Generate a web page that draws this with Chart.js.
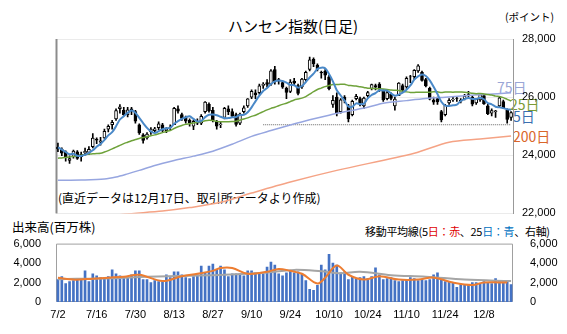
<!DOCTYPE html>
<html>
<head>
<meta charset="utf-8">
<script src="https://cdn.jsdelivr.net/npm/chart.js@4.4.1/dist/chart.umd.min.js"></script>
<style>
  body { margin: 0; background: #fff; width: 567px; height: 334px; overflow: hidden; position: relative; font-family: 'Liberation Sans', 'Noto Sans CJK JP', sans-serif; }
  .box { position: absolute; left: 0; width: 567px; }
  .txt { position: absolute; white-space: nowrap; font-family: 'Noto Sans CJK JP', sans-serif; color: #000; line-height: 1; }
</style>
</head>
<body>
<div class="txt" style="left:228px; top:18px; font-size:15px;">ハンセン指数(日足)</div>
<div class="txt" style="left:505px; top:12px; font-size:10.5px;">(ポイント)</div>
<div class="txt" style="left:58px; top:192px; font-size:12px;">(直近データは12月17日、取引所データより作成)</div>
<div class="txt" style="left:497px; top:80px; font-size:14px; color:#9aa6d6;">75日</div>
<div class="txt" style="left:510px; top:97px; font-size:14px; color:#7b9b35;">25日</div>
<div class="txt" style="left:513px; top:109px; font-size:14px; color:#3b6fb0;">5日</div>
<div class="txt" style="left:513px; top:129px; font-size:14px; color:#d9662a;">200日</div>
<div class="txt" style="left:12px; top:221px; font-size:12.5px;">出来高(百万株)</div>
<div class="txt" style="left:365px; top:226px; font-size:11px; letter-spacing:-0.3px;">移動平均線(5<span style="color:#e00000">日：赤</span>、25<span style="color:#0070c0">日：青</span>、右軸)</div>

<div class="box" style="top:0; height:229px;"><canvas id="priceChart"></canvas></div>
<div class="box" style="top:228px; height:106px;"><canvas id="volChart"></canvas></div>

<script>
// 営業日
const days = [
  '7/2','7/3','7/4','7/7','7/8','7/9','7/10','7/11','7/14','7/15','7/16','7/17','7/18','7/21','7/22','7/23','7/24','7/25','7/28','7/29','7/30','7/31',
  '8/1','8/4','8/5','8/6','8/7','8/8','8/11','8/12','8/13','8/14','8/15','8/18','8/19','8/20','8/21','8/22','8/25','8/26','8/27','8/28','8/29',
  '9/1','9/2','9/3','9/4','9/5','9/8','9/9','9/10','9/11','9/12','9/15','9/16','9/17','9/18','9/19','9/22','9/23','9/24','9/25','9/26','9/29','9/30',
  '10/2','10/3','10/6','10/8','10/9','10/10','10/13','10/14','10/15','10/16','10/17','10/20','10/21','10/22','10/23','10/24','10/27','10/28','10/30','10/31',
  '11/3','11/4','11/5','11/6','11/7','11/10','11/11','11/12','11/13','11/14','11/17','11/18','11/19','11/20','11/21','11/24','11/25','11/26','11/27','11/28',
  '12/1','12/2','12/3','12/4','12/5','12/8','12/9','12/10','12/11','12/12','12/15','12/16','12/17'
];

// 四本値
const opens = [
  24280,24200,24120,23820,23960,24120,23950,24080,24100,24300,24560,24450,24600,24900,25050,25250,25600,25550,25400,25600,25500,25050,
  24700,24600,24800,24850,24950,25050,24850,24950,25050,25600,25400,25300,25200,25000,25150,25100,25500,25750,25550,25150,25050,
  25300,25600,25500,25400,25100,25500,25700,26000,26150,26150,26400,26500,26450,26950,26600,26500,26300,26200,26550,26400,26350,26600,
  26950,27300,27100,26850,26900,26700,25750,26000,25500,26000,25700,25400,25950,25950,25700,26050,26300,26400,26450,26200,
  25950,26100,25700,26050,26400,26350,26700,26700,26900,26850,26600,26300,25900,25950,25500,25400,25800,25900,25950,25900,
  25950,26100,26000,25800,25900,26050,25700,25450,25500,25700,25850,25550,25300
];
const highs = [
  24420,24260,24150,23980,24180,24160,24110,24250,24300,24750,24600,24620,24900,25050,25200,25600,25740,25650,25650,25650,25550,25080,
  24750,24780,24950,24960,25150,25100,24950,25050,25650,25700,25450,25350,25250,25200,25250,25400,25850,25800,25650,25200,25150,
  25650,25700,25600,25450,25450,25700,25950,26250,26250,26450,26500,26600,26950,27060,26650,26550,26350,26600,26650,26450,26650,26900,
  27380,27350,27150,26900,26950,26750,26050,26150,25950,26050,25750,25900,26100,26000,26000,26200,26450,26450,26500,26250,
  26200,26150,26000,26500,26450,26700,26750,26950,27120,26900,26650,26350,26000,26000,25550,25750,25950,26000,26000,25950,
  26100,26200,26050,25950,26100,26100,25750,25600,25550,26000,25900,25600,25500
];
const lows = [
  24120,23990,23800,23720,23900,23860,23800,24000,24020,24250,24400,24350,24580,24800,24900,25200,25450,25350,25320,25400,25100,24720,
  24420,24550,24720,24800,24880,24800,24780,24850,25050,25450,25200,25100,25000,24880,25050,25050,25450,25480,25150,24900,24950,
  25250,25400,25300,25000,25050,25450,25650,25950,25950,26100,26300,26350,26400,26450,26450,26300,25950,26150,26400,26080,26300,26550,
  26900,27050,26900,26650,26600,26250,25650,25350,25450,25800,25150,25350,25900,25700,25600,26000,26250,26250,26200,25850,
  25900,25900,25550,26050,26150,26300,26500,26600,26850,26550,26350,25900,25750,25750,25150,25350,25750,25850,25850,25800,
  25900,26000,25700,25750,25850,25750,25400,25350,25300,25650,25600,25100,25200
];
const closes = [
  24221,24069,23916,23887,24148,23892,24028,24139,24203,24590,24517,24498,24826,24994,25130,25538,25667,25388,25562,25524,25177,24773,
  24508,24733,24902,24910,25081,24858,24906,24969,25613,25519,25270,25176,25122,25165,25104,25339,25829,25525,25201,24998,25077,
  25617,25497,25343,25058,25418,25633,25938,26200,26086,26388,26446,26438,26908,26544,26545,26344,26159,26519,26484,26128,26622,26855,
  27287,27141,26958,26829,26752,26290,25889,25441,25910,25888,25247,25858,26027,25781,25967,26160,26433,26346,26282,25907,
  26159,25952,25935,26485,26241,26649,26696,26922,27073,26572,26384,25930,25830,25835,25220,25716,25894,25928,25945,25858,
  26033,26095,25760,25935,26085,25765,25434,25541,25530,25976,25628,25235,25468
];

// 移動平均（読み取り値）
const ma5 = [
  24275,24194,24112,24033,24048,23982,23974,24019,24082,24170,24295,24389,24527,24685,24793,24997,25231,25343,25457,25536,
  25464,25285,25109,24943,24819,24765,24827,24897,24931,24945,25085,25173,25255,25309,25340,25250,25167,25181,25312,25392,
  25400,25378,25326,25284,25278,25306,25318,25387,25390,25478,25649,25855,26049,26212,26312,26453,26545,26576,26556,26500,
  26422,26410,26327,26382,26522,26675,26807,26973,27014,26993,26794,26544,26240,26056,25884,25675,25669,25786,25760,25776,
  25959,26074,26137,26238,26226,26225,26129,26047,26088,26154,26252,26401,26599,26716,26782,26729,26576,26358,26110,25840,
  25706,25699,25719,25741,25868,25932,25972,25938,25936,25982,25928,25796,25752,25671,25649,25622,25582,25567
];
const ma25 = [
  23900,23910,23925,23940,23960,23980,24000,24020,24040,24050,24060,24070,24110,24160,24220,24280,24340,24400,24450,24500,
  24540,24580,24610,24640,24673,24701,24741,24779,24820,24853,24922,24981,25026,25065,25087,25113,25137,25157,25191,25207,
  25193,25166,25154,25156,25155,25161,25173,25209,25245,25287,25338,25379,25440,25501,25560,25612,25653,25704,25751,25792,
  25846,25902,25933,25965,26018,26102,26187,26263,26311,26361,26399,26432,26433,26444,26442,26404,26395,26380,26354,26335,
  26305,26301,26293,26290,26280,26266,26245,26237,26231,26207,26181,26163,26162,26172,26165,26168,26170,26185,26182,26156,
  26174,26176,26172,26178,26174,26169,26155,26132,26118,26125,26109,26089,26073,26035,26024,25983,25925,25867
];
const ma75Days = ['7/2','7/10','7/18','7/23','7/28','7/31','8/6','8/13','8/20','8/27','9/3','9/10','9/17','9/24','10/2','10/10','10/17','10/24','10/31','11/10','11/17','11/24','12/1','12/8','12/17'];
const ma75 = [23140,23150,23180,23250,23360,23480,23650,23820,23970,24140,24380,24650,24850,25040,25220,25380,25520,25650,25790,25880,25950,26000,26050,26090,26150];
const ma200Days = ['7/2','7/16','7/25','8/8','8/19','8/29','9/10','9/24','10/14','11/12','11/25','12/5','12/17'];
const ma200 = [21650,21850,21970,22080,22200,22380,22700,23080,23480,24070,24450,24560,24660];
const supportDays = ['9/15','12/17'];
const supportLevel = [25050,25050];

// 出来高（百万株）
const volume = [
  2300,2600,1900,2100,2200,2300,2400,3200,2100,2900,2700,2500,2400,2600,3300,2900,2700,2500,2600,2800,3200,3200,
  2300,2300,2000,2200,2100,2100,2800,2500,3100,3100,2800,2500,2400,2600,2800,3700,3000,3700,3900,3300,3700,
  3300,2600,2900,2900,2900,2700,3200,3200,3000,2900,2900,3600,4100,3800,2900,2700,3000,3200,3000,3100,2900,2200,
  1300,1200,1700,3800,3300,4900,4000,3800,3000,3100,2300,2600,2400,2500,2600,2400,2600,3500,2800,2300,
  2400,2500,2200,2100,2200,2300,2500,2400,2200,2300,2200,2300,2800,3000,2300,2100,2100,2000,1500,1800,
  1700,1700,2000,2000,1900,2100,2000,1900,2400,2100,2200,2100,1800
];
const volMa5Days = ['7/2','7/8','7/15','7/21','7/25','7/31','8/8','8/15','8/21','8/27','8/29','9/3','9/9','9/16','9/19','9/24','9/29','10/6','10/9','10/14','10/17','10/23','10/30','11/6','11/13','11/19','11/26','12/3','12/8','12/16'];
const volMa5 = [2500,2300,2400,2500,2600,2800,2150,2650,2900,3200,3500,3500,2900,3100,3400,3200,2900,1900,2500,3750,2800,2300,2650,2300,2300,2500,2000,1750,2000,2000];
const volMa25Days = ['7/2','7/22','8/4','8/19','9/1','9/15','9/25','10/8','10/15','10/22','11/4','11/17','12/1','12/17'];
const volMa25 = [2350,2450,2600,2700,2800,3000,3300,3150,2950,3100,2750,2600,2300,2150];

const axisFont = { family: "'Liberation Sans', Arial, sans-serif", size: 11 };
const fmt = v => v.toLocaleString('en-US');

// 枠線
const framePlugin = {
  id: 'frame',
  beforeDatasetsDraw(chart, args, opts) {
    const a = chart.chartArea, ctx = chart.ctx;
    ctx.save();
    ctx.strokeStyle = opts.color || '#999';
    ctx.lineWidth = opts.width || 1;
    ctx.beginPath();
    if (opts.box) {
      ctx.rect(a.left + 0.5, a.top + 0.5, a.right - a.left - 1, a.bottom - a.top - 1);
    } else {
      ctx.moveTo(a.left + 0.5, a.top);
      ctx.lineTo(a.left + 0.5, a.bottom);
    }
    ctx.stroke();
    ctx.restore();
  }
};

const pts = (d, v) => d.map((x, i) => ({ x: x, y: v[i] }));

new Chart(document.getElementById('priceChart'), {
  data: {
    labels: days,
    datasets: [
      { type: 'line', data: ma5, borderColor: '#4a89c8', borderWidth: 2, pointRadius: 0, tension: 0.3, order: 0 },
      { type: 'line', data: ma25, borderColor: '#6ea23a', borderWidth: 1.5, pointRadius: 0, tension: 0.3, order: 0 },
      { type: 'line', data: pts(ma75Days, ma75), borderColor: '#97a6e0', borderWidth: 1.5, pointRadius: 0, tension: 0.3, order: 0 },
      { type: 'line', data: pts(ma200Days, ma200), borderColor: '#f5a385', borderWidth: 1.5, pointRadius: 0, tension: 0.3, order: 0 },
      { type: 'line', data: pts(supportDays, supportLevel), borderColor: '#666', borderWidth: 1, borderDash: [1, 1], pointRadius: 0, order: 0 },
      { type: 'bar', data: days.map((d, i) => [lows[i], highs[i]]), backgroundColor: '#000', barThickness: 1, grouped: false, order: 2 },
      { type: 'bar', data: days.map((d, i) => [Math.min(opens[i], closes[i]), Math.max(opens[i], closes[i])]),
        backgroundColor: days.map((d, i) => closes[i] >= opens[i] ? '#fff' : '#000'),
        borderColor: '#000', borderWidth: 1, borderSkipped: false, barThickness: 3, grouped: false, order: 1 }
    ]
  },
  options: {
    responsive: true, maintainAspectRatio: false, animation: false,
    layout: { padding: { left: 56, right: 0, top: 39, bottom: 9 } },
    plugins: { legend: { display: false }, tooltip: { enabled: false }, frame: { color: '#8c8c8c', width: 2 } },
    scales: {
      x: { display: false, offset: true },
      y: {
        position: 'right', min: 22000, max: 28000,
        afterFit(s) { s.width = 54; },
        ticks: { stepSize: 2000, callback: v => fmt(v), color: '#000', font: axisFont, padding: 9 },
        grid: { color: '#ebebeb', drawTicks: false },
        border: { display: true, color: '#999', width: 1 }
      }
    }
  },
  plugins: [framePlugin]
});

new Chart(document.getElementById('volChart'), {
  data: {
    labels: days,
    datasets: [
      { type: 'line', data: pts(volMa5Days, volMa5), borderColor: '#ed7d31', borderWidth: 2, pointRadius: 0, tension: 0.35, yAxisID: 'y2', order: 0 },
      { type: 'line', data: pts(volMa25Days, volMa25), borderColor: '#a5a5a5', borderWidth: 2, pointRadius: 0, tension: 0.35, yAxisID: 'y2', order: 1 },
      { type: 'bar', data: volume, backgroundColor: '#4472c4', barThickness: 2, yAxisID: 'y', order: 2 }
    ]
  },
  options: {
    responsive: true, maintainAspectRatio: false, animation: false,
    layout: { padding: { left: 0, right: 0, top: 8, bottom: 0 } },
    plugins: { legend: { display: false }, tooltip: { enabled: false }, frame: { box: true, color: '#a0a0a0', width: 1 } },
    scales: {
      x: {
        offset: true,
        afterFit(s) { s.height = 32; },
        grid: { display: false, drawTicks: false },
        border: { display: false },
        ticks: { autoSkip: false, maxRotation: 0, color: '#000', font: axisFont, padding: 6,
          callback: (v, i) => i % 10 === 0 ? days[i] : '' }
      },
      y: {
        position: 'left', min: 0, max: 6000,
        afterFit(s) { s.width = 56; },
        ticks: { stepSize: 2000, callback: v => fmt(v), color: '#000', font: axisFont, padding: 7 },
        grid: { display: false },
        border: { display: false }
      },
      y2: {
        position: 'right', min: 0, max: 6000,
        afterFit(s) { s.width = 54; },
        ticks: { stepSize: 2000, callback: v => fmt(v), color: '#000', font: axisFont, padding: 9 },
        grid: { display: false },
        border: { display: false }
      }
    }
  },
  plugins: [framePlugin]
});
</script>
</body>
</html>
